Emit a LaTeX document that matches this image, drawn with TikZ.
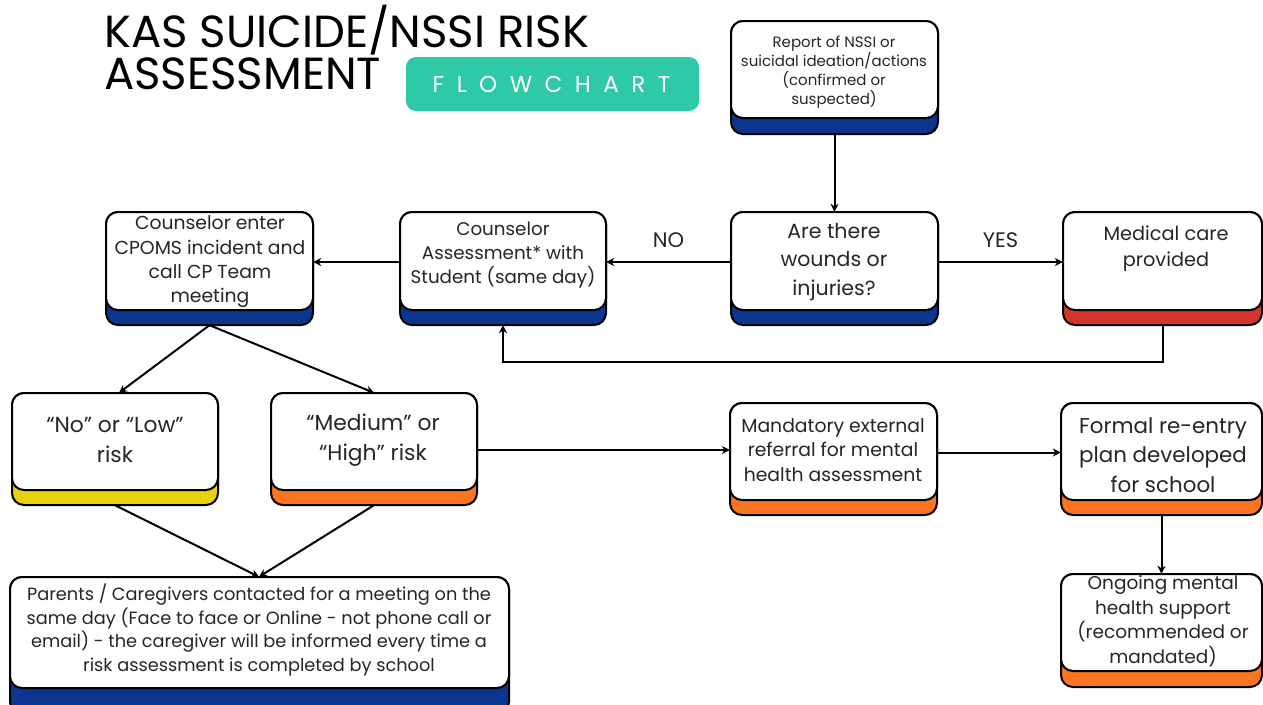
\documentclass[tikz,border=0pt]{standalone}
\usepackage{fontspec}
\setmainfont{Poppins}
\usetikzlibrary{arrows.meta,fit,calc}
\definecolor{navy}{HTML}{0B358E}
\definecolor{yel}{HTML}{E8D20E}
\definecolor{ora}{HTML}{FB7420}
\definecolor{redb}{HTML}{D2352B}
\definecolor{teal}{HTML}{2EC9A6}
\definecolor{txt}{HTML}{262626}
\newcommand{\fsz}[2]{\fontsize{#1}{#2}\selectfont}
\newcommand{\cbox}[6]{% name, x1, x2, ytop, ywhite, ybar ; colour via \boxcol
  \draw[boxline, fill=\boxcol, rounded corners=12pt] (#2,#4) rectangle (#3,#6);
  \draw[boxline, fill=white, rounded corners=12pt] (#2,#4) rectangle (#3,#5);
  \node[fit={(#2,#4) (#3,#6)}, inner sep=0pt] (#1) {};
}
\tikzset{
  boxline/.style={draw=black, line width=2pt},
  conn/.style={draw=black, line width=2pt, -{Stealth[length=8pt,width=8pt]}},
  btext/.style={text=txt, align=center, inner sep=0pt},
  lbl/.style={text=txt, inner sep=0pt, font=\fsz{21}{25}},
}
\begin{document}
\begin{tikzpicture}[x=1pt,y=-1pt]
\useasboundingbox (0,0) rectangle (1263,704);
\clip (0,0) rectangle (1263,704);
\fill[white] (0,0) rectangle (1263,704);
% title
\node[anchor=base west, inner sep=0pt, font=\fsz{45}{50}] (t1) at (104,47) {KAS SUICIDE/NSSI RISK};
\node[anchor=base west, inner sep=0pt, font=\fsz{45}{50}] (t2) at (104,89) {ASSESSMENT};
\fill[teal, rounded corners=10pt] (406,57) rectangle (699,111);
\node[inner sep=0pt, text=white, font=\fsz{23}{26}] (fc) at (551.5,84) {F\hspace{12.5pt}L\hspace{12.5pt}O\hspace{12.5pt}W\hspace{12.5pt}C\hspace{12.5pt}H\hspace{12.5pt}A\hspace{12.5pt}R\hspace{12.5pt}T};
% boxes
\def\boxcol{navy}
\cbox{rep}{731}{938}{21}{118}{134}
\cbox{are}{731}{938}{212}{310}{325}
\cbox{ass}{400}{606}{212}{310}{325}
\cbox{cpo}{106}{313}{212}{310}{325}
\def\boxcol{redb}
\cbox{med}{1063}{1262}{212}{310}{325}
\def\boxcol{yel}
\cbox{low}{12}{218}{393}{490}{505}
\def\boxcol{ora}
\cbox{hig}{271}{477}{393}{490}{505}
\cbox{man}{730}{937}{403}{500}{515}
\cbox{ree}{1061}{1262}{403}{500}{515}
\cbox{ong}{1061}{1262}{574}{671}{687}
\def\boxcol{navy}
\cbox{par}{10}{509}{577}{688}{714}
% texts
\node[btext, font=\fsz{15}{19}] (rep-t) at (834,72) {Report of NSSI or\\suicidal ideation/actions\\(confirmed or\\suspected)};
\node[btext, font=\fsz{20.5}{28.5}] (are-t) at (834,262) {Are there\\wounds or\\injuries?};
\node[btext, font=\fsz{18.3}{24}] (ass-t) at (503,255) {Counselor\\Assessment* with\\Student (same day)};
\node[btext, font=\fsz{18.8}{24.3}] (cpo-t) at (210,262) {Counselor enter\\CPOMS incident and\\call CP Team\\meeting};
\node[btext, font=\fsz{19.3}{26}] (med-t) at (1166,249) {Medical care\\provided};
\node[btext, font=\fsz{21.8}{29.5}] (low-t) at (115,440) {“No” or “Low”\\risk};
\node[btext, font=\fsz{21.8}{29.5}] (hig-t) at (373,440) {“Medium” or\\“High” risk};
\node[btext, font=\fsz{18.8}{24.3}] (man-t) at (833,450) {Mandatory external\\referral for mental\\health assessment};
\node[btext, font=\fsz{21.4}{29.3}] (ree-t) at (1163,455) {Formal re-entry\\plan developed\\for school};
\node[btext, font=\fsz{18.5}{24.5}] (ong-t) at (1163,621) {Ongoing mental\\health support\\(recommended or\\mandated)};
\node[btext, font=\fsz{17.75}{23.5}] (par-t) at (259,630) {Parents / Caregivers contacted for a meeting on the\\same day (Face to face or Online - not phone call or\\email) - the caregiver will be informed every time a\\risk assessment is completed by school};
% connectors
\draw[conn] (rep.south) -- (are.north);
\draw[conn] ([yshift=6.5pt]are.west) -- ([yshift=6.5pt]ass.east) node[lbl, midway, above=13pt] (no) {NO};
\draw[conn] ([yshift=6.5pt]are.east) -- ([yshift=6.5pt]med.west) node[lbl, midway, above=13pt] (yes) {YES};
\draw[conn] (med.south) |- ($(ass.south)+(0,37)$) -- (ass.south);
\draw[conn] ([yshift=6.5pt]ass.west) -- ([yshift=6.5pt]cpo.east);
\draw[conn] (cpo.south) -- ($(low.north)+(4,0)$);
\draw[conn] (cpo.south) -- (hig.north);
\draw[conn] (low.south) -- (par.north -| 259,0);
\draw[conn] (hig.south) -- (par.north -| 259,0);
\draw[conn] ([yshift=-1pt]hig.east) -- ([yshift=-1pt]hig.east -| man.west);
\draw[conn] ([yshift=6.5pt]man.east) -- ([yshift=6.5pt]ree.west);
\draw[conn] (ree.south) -- (ong.north);
\end{tikzpicture}
\end{document}
